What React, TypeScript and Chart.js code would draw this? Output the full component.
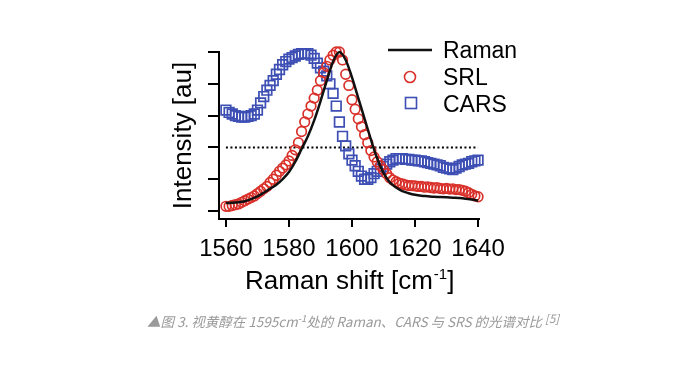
import React, { useEffect, useRef } from "react";
import { Chart, registerables } from "chart.js";

Chart.register(...registerables);

// Raman shift sampling of the SRL / CARS measurements (cm^-1)
const shiftCm = [
  1560, 1561, 1562, 1563, 1564, 1565, 1566, 1567, 1568, 1569,
  1570, 1571, 1572, 1573, 1574, 1575, 1576, 1577, 1578, 1579,
  1580, 1581, 1582, 1583, 1584, 1585, 1586, 1587, 1588, 1589,
  1590, 1591, 1592, 1593, 1594, 1595, 1596, 1597, 1598, 1599,
  1600, 1601, 1602, 1603, 1604, 1605, 1606, 1607, 1608, 1609,
  1610, 1611, 1612, 1613, 1614, 1615, 1616, 1617, 1618, 1619,
  1620, 1621, 1622, 1623, 1624, 1625, 1626, 1627, 1628, 1629,
  1630, 1631, 1632, 1633, 1634, 1635, 1636, 1637, 1638, 1639,
  1640,
];

const srlValues = [
  0.03, 0.03, 0.035, 0.04, 0.045, 0.055, 0.065, 0.075, 0.085, 0.095,
  0.11, 0.125, 0.14, 0.155, 0.18, 0.2, 0.225, 0.25, 0.27, 0.29,
  0.315, 0.35, 0.385, 0.43, 0.5, 0.56, 0.61, 0.66, 0.71, 0.76,
  0.82, 0.87, 0.91, 0.95, 0.98, 1.0, 1.0, 0.95, 0.86, 0.79,
  0.7, 0.64, 0.58, 0.53, 0.48, 0.43, 0.38, 0.34, 0.31, 0.285,
  0.26, 0.235, 0.21, 0.195, 0.185, 0.175, 0.17, 0.165, 0.16, 0.16,
  0.158, 0.155, 0.155, 0.15, 0.152, 0.148, 0.145, 0.147, 0.142, 0.14,
  0.142, 0.138, 0.14, 0.135, 0.135, 0.13, 0.125, 0.115, 0.105, 0.095,
  0.09,
];

const carsValues = [
  0.635, 0.62, 0.61, 0.6, 0.595, 0.59, 0.59, 0.595, 0.6, 0.61,
  0.635, 0.68, 0.72, 0.76, 0.79, 0.82, 0.86, 0.89, 0.92, 0.94,
  0.955, 0.965, 0.975, 0.985, 0.99, 0.99, 0.99, 0.98, 0.96, 0.93,
  0.9, 0.88, 0.85, 0.8, 0.74, 0.66, 0.56, 0.47, 0.41, 0.36,
  0.32, 0.285, 0.25, 0.22, 0.2, 0.2, 0.21, 0.235, 0.25, 0.265,
  0.28, 0.295, 0.31, 0.32, 0.33, 0.33, 0.33, 0.325, 0.325, 0.32,
  0.32, 0.315, 0.315, 0.31, 0.305, 0.3, 0.295, 0.29, 0.285, 0.275,
  0.27, 0.265, 0.26, 0.27, 0.28, 0.29, 0.295, 0.3, 0.31, 0.315,
  0.32,
];

// Spontaneous Raman spectrum (solid line)
const ramanShift = [
  1560, 1562, 1564, 1566, 1568, 1570, 1572, 1574, 1576, 1578,
  1580, 1582, 1584, 1586, 1588, 1590, 1592, 1594, 1596, 1598,
  1600, 1602, 1604, 1606, 1608, 1610, 1612, 1614, 1616, 1618,
  1620, 1622, 1624, 1626, 1628, 1630, 1632, 1634, 1636, 1638,
  1640,
];
const ramanValues = [
  0.05, 0.052, 0.056, 0.062, 0.075, 0.092, 0.115, 0.14, 0.165, 0.2,
  0.245, 0.31, 0.39, 0.47, 0.57, 0.69, 0.82, 0.94, 1.0, 0.95,
  0.84, 0.71, 0.58, 0.45, 0.33, 0.24, 0.18, 0.148, 0.125, 0.112,
  0.102, 0.096, 0.093, 0.09, 0.088, 0.086, 0.084, 0.082, 0.078, 0.072,
  0.065,
];

// Dotted reference level
const refShift = [1560, 1640];
const refValues = [0.4, 0.4];

const xTicks = [1560, 1580, 1600, 1620, 1640];
const yTicks = [0, 0.2, 0.4, 0.6, 0.8, 1.0];

const seriesLabels = ["Raman", "SRL", "CARS"];

const RED = "#d9302a";
const BLUE = "#3d4fb4";
const FONT = "'Liberation Sans', Arial, Helvetica, sans-serif";

const insideLegend = {
  id: "insideLegend",
  afterDatasetsDraw(chart: any) {
    const ctx = chart.ctx as CanvasRenderingContext2D;
    const { right, top } = chart.chartArea;
    ctx.save();
    // Raman line sample
    ctx.strokeStyle = "#111";
    ctx.lineWidth = 2.5;
    ctx.beginPath();
    ctx.moveTo(right - 91, top - 2);
    ctx.lineTo(right - 47, top - 2);
    ctx.stroke();
    // SRL circle
    ctx.strokeStyle = RED;
    ctx.lineWidth = 1.6;
    ctx.beginPath();
    ctx.arc(right - 69, top + 25, 5.5, 0, Math.PI * 2);
    ctx.stroke();
    // CARS square
    ctx.strokeStyle = BLUE;
    ctx.strokeRect(right - 73.5, top + 45.5, 11, 11);
    // texts
    ctx.fillStyle = "#000";
    ctx.font = `23px ${FONT}`;
    ctx.textBaseline = "alphabetic";
    ctx.textAlign = "left";
    ctx.fillText(seriesLabels[0], right - 36, top + 6);
    ctx.fillText(seriesLabels[1], right - 36, top + 33);
    ctx.fillText(seriesLabels[2], right - 36, top + 60);
    ctx.restore();
  },
};

export default function App() {
  const canvasRef = useRef<HTMLCanvasElement | null>(null);

  useEffect(() => {
    if (!canvasRef.current) return;
    const chart = new Chart(canvasRef.current, {
      type: "line",
      data: {
        datasets: [
          {
            label: seriesLabels[0],
            data: ramanShift.map((x, i) => ({ x, y: ramanValues[i] })),
            borderColor: "#111",
            borderWidth: 2.5,
            pointRadius: 0,
            tension: 0.4,
            cubicInterpolationMode: "monotone",
            clip: false as any,
          },
          {
            label: seriesLabels[1],
            data: shiftCm.map((x, i) => ({ x, y: srlValues[i] })),
            showLine: false,
            pointStyle: "circle",
            pointRadius: 4.8,
            pointBorderWidth: 1.7,
            pointBorderColor: RED,
            pointBackgroundColor: "rgba(0,0,0,0)",
            borderColor: RED,
            clip: false as any,
          },
          {
            label: seriesLabels[2],
            data: shiftCm.map((x, i) => ({ x, y: carsValues[i] })),
            showLine: false,
            pointStyle: "rect",
            pointRadius: 6.8,
            pointBorderWidth: 1.7,
            pointBorderColor: BLUE,
            pointBackgroundColor: "rgba(0,0,0,0)",
            borderColor: BLUE,
            clip: false as any,
          },
          {
            label: "reference",
            data: refShift.map((x, i) => ({ x, y: refValues[i] })),
            borderColor: "#000",
            borderWidth: 2,
            borderDash: [2, 2.5],
            pointRadius: 0,
          },
        ],
      },
      options: {
        animation: false,
        responsive: false,
        maintainAspectRatio: false,
        layout: { padding: { left: 160, right: 205, top: 52, bottom: 0 } },
        plugins: {
          legend: { display: false },
          tooltip: { enabled: false },
        },
        scales: {
          x: {
            type: "linear",
            min: 1557.8,
            max: 1640.3,
            afterBuildTicks: (s: any) => {
              s.ticks = xTicks.map((v) => ({ value: v }));
            },
            afterFit: (s: any) => {
              s.height = 146;
            },
            grid: {
              display: true,
              drawOnChartArea: false,
              drawTicks: true,
              tickLength: 8,
              color: "#000",
              lineWidth: 2,
            },
            border: { display: true, color: "#000", width: 2 },
            ticks: {
              color: "#000",
              font: { family: FONT, size: 24 },
              padding: 8,
              maxRotation: 0,
              autoSkip: false,
              callback: (v: any) => String(v),
            },
          },
          y: {
            type: "linear",
            min: -0.05,
            max: 1.0,
            afterBuildTicks: (s: any) => {
              s.ticks = yTicks.map((v) => ({ value: v }));
            },
            afterFit: (s: any) => {
              s.width = 59;
            },
            grid: {
              display: true,
              drawOnChartArea: false,
              drawTicks: true,
              tickLength: 11,
              color: "#000",
              lineWidth: 2,
            },
            border: { display: true, color: "#000", width: 2 },
            ticks: { display: false },
            title: {
              display: true,
              text: "Intensity [au]",
              color: "#000",
              font: { family: FONT, size: 26 },
              padding: { top: 8, bottom: 0 },
            },
          },
        },
      },
      plugins: [insideLegend],
    } as any);
    return () => chart.destroy();
  }, []);

  return (
    <div
      style={{
        position: "absolute",
        left: 0,
        top: 0,
        width: 684,
        height: 365,
        background: "#fff",
        overflow: "hidden",
      }}
    >
      <canvas
        ref={canvasRef}
        width={684}
        height={365}
        style={{ position: "absolute", left: 0, top: 0, width: 684, height: 365 }}
      />
      <div
        style={{
          position: "absolute",
          left: 245,
          top: 267,
          fontFamily: FONT,
          fontSize: 26,
          lineHeight: "26px",
          color: "#000",
          whiteSpace: "nowrap",
        }}
      >
        Raman shift [cm
        <span style={{ fontSize: 15, position: "relative", top: -10, marginLeft: 1 }}>-1</span>]
      </div>
      <div
        style={{
          position: "absolute",
          left: 147,
          top: 313,
          fontFamily: "'Noto Sans CJK SC', 'Noto Sans', sans-serif",
          fontStyle: "italic",
          fontSize: 13.5,
          lineHeight: "16px",
          color: "#9a9a9a",
          whiteSpace: "nowrap",
        }}
      >
        ▲图 3. 视黄醇在 1595cm
        <span style={{ fontSize: 9.5, position: "relative", top: -5 }}>-1</span>
        处的 Raman、CARS 与 SRS 的光谱对比
        <span style={{ fontSize: 11.5, position: "relative", top: -4, marginLeft: 3 }}>[5]</span>
      </div>
    </div>
  );
}
